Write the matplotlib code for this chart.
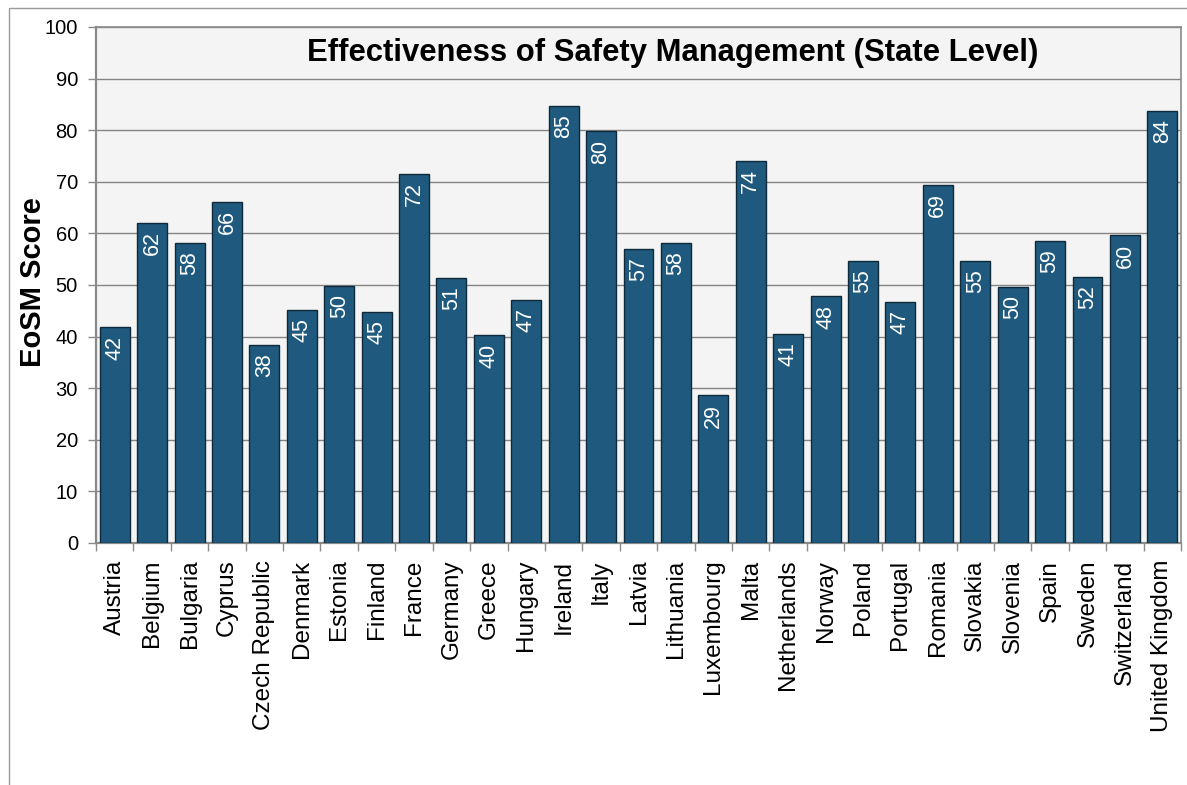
import matplotlib
matplotlib.use("Agg")
import matplotlib.pyplot as plt
from matplotlib.patches import Rectangle
import numpy as np

# EoSM scores by state
countries = [
    "Austria", "Belgium", "Bulgaria", "Cyprus", "Czech Republic", "Denmark",
    "Estonia", "Finland", "France", "Germany", "Greece", "Hungary", "Ireland",
    "Italy", "Latvia", "Lithuania", "Luxembourg", "Malta", "Netherlands",
    "Norway", "Poland", "Portugal", "Romania", "Slovakia", "Slovenia", "Spain",
    "Sweden", "Switzerland", "United Kingdom",
]
scores = [
    41.8, 62.0, 58.1, 66.1, 38.4, 45.2,
    49.8, 44.8, 71.6, 51.3, 40.3, 47.1, 84.7,
    79.8, 57.0, 58.1, 28.6, 74.1, 40.6,
    47.8, 54.7, 46.8, 69.4, 54.7, 49.6, 58.6,
    51.6, 59.6, 83.7,
]
y_ticks = [0, 10, 20, 30, 40, 50, 60, 70, 80, 90, 100]
title = "Effectiveness of Safety Management (State Level)"
y_label = "EoSM Score"

plt.rcParams["font.family"] = ["Liberation Sans", "DejaVu Sans"]

W, H = 1187, 785
fig = plt.figure(figsize=(W / 100, H / 100), dpi=100)
fig.patch.set_facecolor("white")

# outer chart frame
fig.patches.append(Rectangle((9 / W, -0.01), 1.0, (H - 8) / H + 0.01,
                             transform=fig.transFigure, fill=False,
                             edgecolor="#9a9a9a", linewidth=1.0))

ax = fig.add_axes([96 / W, (H - 543) / H, (1181 - 96) / W, (543 - 27) / H])
ax.set_facecolor("#f4f4f4")

x = np.arange(len(countries))
bars = ax.bar(x, scores, width=0.8, color="#1f5a7e", edgecolor="#10293a",
              linewidth=1.0, zorder=3)

for xi, v in zip(x, scores):
    ax.annotate(f"{v:.0f}", xy=(xi, v), xytext=(0, -6),
                textcoords="offset points", ha="center", va="top",
                rotation=90, color="white", fontsize=15.5, zorder=4)

ax.set_xlim(-0.5, len(countries) - 0.5)
ax.set_ylim(0, 100)
ax.set_yticks(y_ticks)
ax.set_yticklabels([str(t) for t in y_ticks], fontsize=14.5)
ax.yaxis.grid(True, color="#858585", linewidth=1.0, zorder=1)
ax.set_axisbelow(True)

ax.set_xticks(x)
ax.set_xticklabels(countries, rotation=90, fontsize=17.5)
ax.set_xticks(np.arange(-0.5, len(countries)), minor=True)
ax.tick_params(axis="x", which="major", length=0, pad=12)
ax.tick_params(axis="x", which="minor", length=6, color="#8a8a8a", width=1.0)
ax.tick_params(axis="y", length=6, color="#8a8a8a", width=1.0, pad=7)

for side, sp in ax.spines.items():
    sp.set_color("#8a8a8a")
    sp.set_linewidth(1.6 if side in ("left", "bottom") else 1.2)

fig.text(33 / W, 1 - 282 / H, y_label, rotation=90, ha="center", va="center",
         fontsize=21, fontweight="bold")
fig.text(673 / W, 1 - 53 / H, title, ha="center", va="center",
         fontsize=22.3, fontweight="bold")

fig.savefig("out.png", dpi=100)
